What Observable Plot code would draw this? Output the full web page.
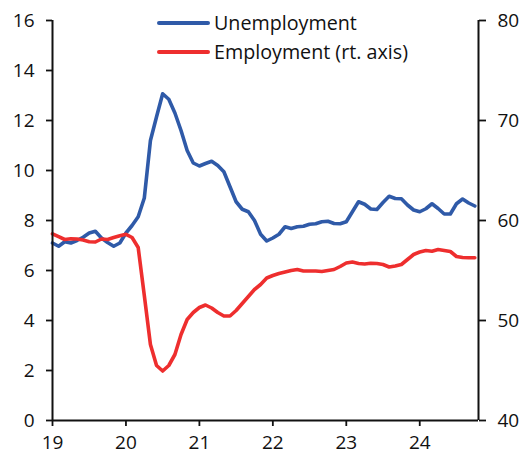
<!DOCTYPE html>
<html>
<head>
<meta charset="utf-8">
<script src="https://cdn.jsdelivr.net/npm/d3@7"></script>
<script src="https://cdn.jsdelivr.net/npm/@observablehq/plot@0.6"></script>
<style>
  body { margin: 0; background: white; }
  #wrap { position: relative; width: 525px; height: 459px; font-family: "Open Sans", sans-serif; }
  .legend { position: absolute; left: 157px; top: 8px; font-size: 19.7px; color: #111; }
  .legend .row { height: 29px; display: flex; align-items: center; }
  .legend .sw { display: inline-block; width: 53px; height: 4px; margin-right: 4px; border-radius: 2px; }
</style>
</head>
<body>
<div id="wrap"></div>
<script>
// Monthly data, Jan 2019 onward
const startYear = 2019;
const seriesNames = ["Unemployment", "Employment (rt. axis)"];
const seriesColors = ["#2f5aa8", "#ee2e2e"];

const unemployment = [
  7.10, 6.97, 7.15, 7.10, 7.20, 7.33, 7.50, 7.57, 7.30, 7.12, 6.97, 7.10,
  7.50, 7.80, 8.15, 8.90, 11.20, 12.15, 13.07, 12.85, 12.30, 11.60, 10.80, 10.30,
  10.18, 10.28, 10.37, 10.20, 9.95, 9.35, 8.75, 8.45, 8.35, 8.00, 7.45, 7.18,
  7.30, 7.45, 7.75, 7.68, 7.75, 7.77, 7.85, 7.87, 7.95, 7.97, 7.88, 7.87,
  7.95, 8.35, 8.75, 8.65, 8.46, 8.44, 8.72, 8.97, 8.88, 8.87, 8.62, 8.42,
  8.35, 8.47, 8.67, 8.48, 8.26, 8.26, 8.67, 8.86, 8.70, 8.58
];

const employment = [
  58.67, 58.38, 58.10, 58.17, 58.15, 58.05, 57.88, 57.85, 58.15, 58.10, 58.30, 58.48,
  58.62, 58.30, 57.30, 52.50, 47.60, 45.50, 44.95, 45.50, 46.60, 48.60, 50.10, 50.80,
  51.30, 51.55, 51.25, 50.80, 50.45, 50.45, 51.00, 51.70, 52.40, 53.10, 53.60, 54.25,
  54.50, 54.70, 54.85, 55.00, 55.10, 54.95, 54.95, 54.95, 54.90, 55.00, 55.10, 55.40,
  55.75, 55.85, 55.70, 55.65, 55.73, 55.70, 55.60, 55.35, 55.45, 55.60, 56.10, 56.60,
  56.85, 57.00, 56.93, 57.10, 57.00, 56.90, 56.40, 56.30, 56.27, 56.27
];

const xTicks = [2019, 2020, 2021, 2022, 2023, 2024];
const xTickLabels = ["19", "20", "21", "22", "23", "24"];
const leftTicks = [0, 2, 4, 6, 8, 10, 12, 14, 16];
const rightTicks = [40, 50, 60, 70, 80];
const xDomain = [2019, 2024.8];

// map right-axis values (40..80) onto left scale (0..16)
const toLeft = v => (v - 40) * 16 / 40;
const fromLeft = d => Math.round(d * 40 / 16 + 40);

const uRows = unemployment.map((v, i) => ({t: startYear + i / 12, v}));
const eRows = employment.map((v, i) => ({t: startYear + i / 12, v: toLeft(v)}));

const chart = Plot.plot({
  width: 525,
  height: 459,
  marginLeft: 52,
  marginRight: 47,
  marginTop: 20,
  marginBottom: 39,
  style: {fontFamily: "Open Sans, sans-serif", fontSize: "19px", color: "#111", background: "white", overflow: "visible"},
  x: {domain: xDomain, label: null},
  y: {domain: [0, 16], label: null},
  marks: [
    Plot.line(uRows, {x: "t", y: "v", stroke: seriesColors[0], strokeWidth: 3.6, curve: "linear"}),
    Plot.line(eRows, {x: "t", y: "v", stroke: seriesColors[1], strokeWidth: 3.6, curve: "linear"}),
    Plot.ruleX([xDomain[0]], {stroke: "#111", strokeWidth: 2}),
    Plot.ruleX([xDomain[1]], {stroke: "#111", strokeWidth: 2}),
    Plot.ruleY([0], {stroke: "#111", strokeWidth: 2}),
    Plot.axisX({ticks: xTicks, tickFormat: d => xTickLabels[xTicks.indexOf(d)], tickSize: 6, tickPadding: 9, strokeWidth: 1.8, label: null}),
    Plot.axisY({anchor: "left", ticks: leftTicks, tickSize: 6, tickPadding: 12, strokeWidth: 1.8, label: null}),
    Plot.axisY({anchor: "right", ticks: rightTicks.map(toLeft), tickFormat: fromLeft, tickSize: 7, tickPadding: 12, strokeWidth: 1.8, label: null})
  ]
});

const wrap = document.getElementById("wrap");
wrap.appendChild(chart);

const legend = document.createElement("div");
legend.className = "legend";
seriesNames.forEach((name, i) => {
  const row = document.createElement("div");
  row.className = "row";
  const sw = document.createElement("span");
  sw.className = "sw";
  sw.style.background = seriesColors[i];
  row.appendChild(sw);
  row.appendChild(document.createTextNode(name));
  legend.appendChild(row);
});
wrap.appendChild(legend);
</script>
</body>
</html>
